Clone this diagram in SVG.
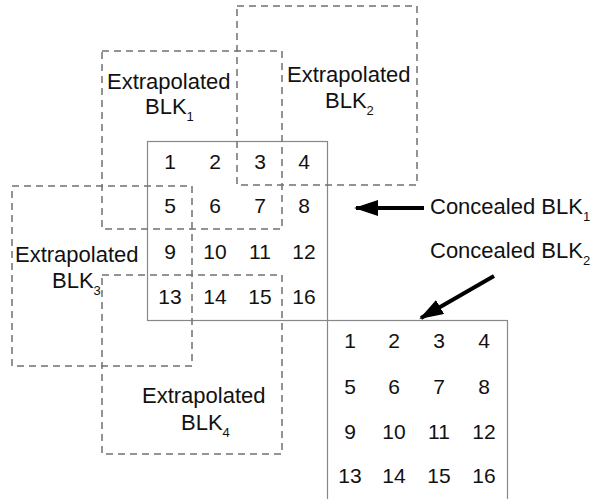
<svg xmlns="http://www.w3.org/2000/svg" width="594" height="499" viewBox="0 0 594 499">
<defs>
<style>
.dash{fill:none;stroke:#707070;stroke-width:1.5;stroke-dasharray:7 5}
.grid{fill:none;stroke:#888;stroke-width:1.2}
.lbl{font-family:"Liberation Sans",Arial,sans-serif;font-size:22px;fill:#111}
.num{font-family:"Liberation Sans",Arial,sans-serif;font-size:21px;fill:#111;text-anchor:middle}
.sub{font-size:13px}
.arr{stroke:#000;stroke-width:4;fill:none}
</style>
<marker id="ah" markerWidth="6" markerHeight="4" refX="5.5" refY="2" orient="auto" markerUnits="strokeWidth">
<path d="M0,0 L6,2 L0,4 Z" fill="#000"/>
</marker>
</defs>
<rect width="594" height="499" fill="#fff"/>

<g id="concealed1">
<rect class="grid" x="147.5" y="141.5" width="180" height="179"/>
<text class="num" x="170" y="169">1</text><text class="num" x="215" y="169">2</text><text class="num" x="260" y="169">3</text><text class="num" x="304" y="169">4</text>
<text class="num" x="170" y="213">5</text><text class="num" x="215" y="213">6</text><text class="num" x="260" y="213">7</text><text class="num" x="304" y="213">8</text>
<text class="num" x="170" y="259">9</text><text class="num" x="215" y="259">10</text><text class="num" x="260" y="259">11</text><text class="num" x="304" y="259">12</text>
<text class="num" x="170" y="304">13</text><text class="num" x="215" y="304">14</text><text class="num" x="260" y="304">15</text><text class="num" x="304" y="304">16</text>
</g>

<g id="concealed2">
<rect class="grid" x="327.5" y="320.5" width="180" height="200"/>
<text class="num" x="350" y="348">1</text><text class="num" x="394" y="348">2</text><text class="num" x="439" y="348">3</text><text class="num" x="484" y="348">4</text>
<text class="num" x="350" y="394">5</text><text class="num" x="394" y="394">6</text><text class="num" x="439" y="394">7</text><text class="num" x="484" y="394">8</text>
<text class="num" x="350" y="439">9</text><text class="num" x="394" y="439">10</text><text class="num" x="439" y="439">11</text><text class="num" x="484" y="439">12</text>
<text class="num" x="350" y="483">13</text><text class="num" x="394" y="483">14</text><text class="num" x="439" y="483">15</text><text class="num" x="484" y="483">16</text>
</g>

<g id="extrap1">
<rect class="dash" x="102" y="51" width="180" height="178"/>
<text class="lbl" x="107" y="89">Extrapolated</text>
<text class="lbl" x="145" y="114">BLK<tspan class="sub" dy="7">1</tspan></text>
</g>

<g id="extrap2">
<rect class="dash" x="237" y="6" width="180" height="179"/>
<text class="lbl" x="287" y="82">Extrapolated</text>
<text class="lbl" x="325" y="108">BLK<tspan class="sub" dy="7">2</tspan></text>
</g>

<g id="extrap3">
<rect class="dash" x="12" y="186" width="180" height="180"/>
<text class="lbl" x="15" y="262">Extrapolated</text>
<text class="lbl" x="52" y="288">BLK<tspan class="sub" dy="7">3</tspan></text>
</g>

<g id="extrap4">
<rect class="dash" x="102" y="275" width="180" height="179"/>
<text class="lbl" x="142" y="403">Extrapolated</text>
<text class="lbl" x="181" y="430">BLK<tspan class="sub" dy="7">4</tspan></text>
</g>

<g id="label1">
<text class="lbl" x="430" y="214">Concealed BLK<tspan class="sub" dy="7">1</tspan></text>
</g>
<g id="label2">
<text class="lbl" x="430" y="258">Concealed BLK<tspan class="sub" dy="7">2</tspan></text>
</g>

<g id="connectors">
<line class="arr" x1="424" y1="208" x2="356" y2="208" marker-end="url(#ah)"/>
<line class="arr" x1="494" y1="276" x2="421" y2="318" marker-end="url(#ah)"/>
</g>
</svg>
